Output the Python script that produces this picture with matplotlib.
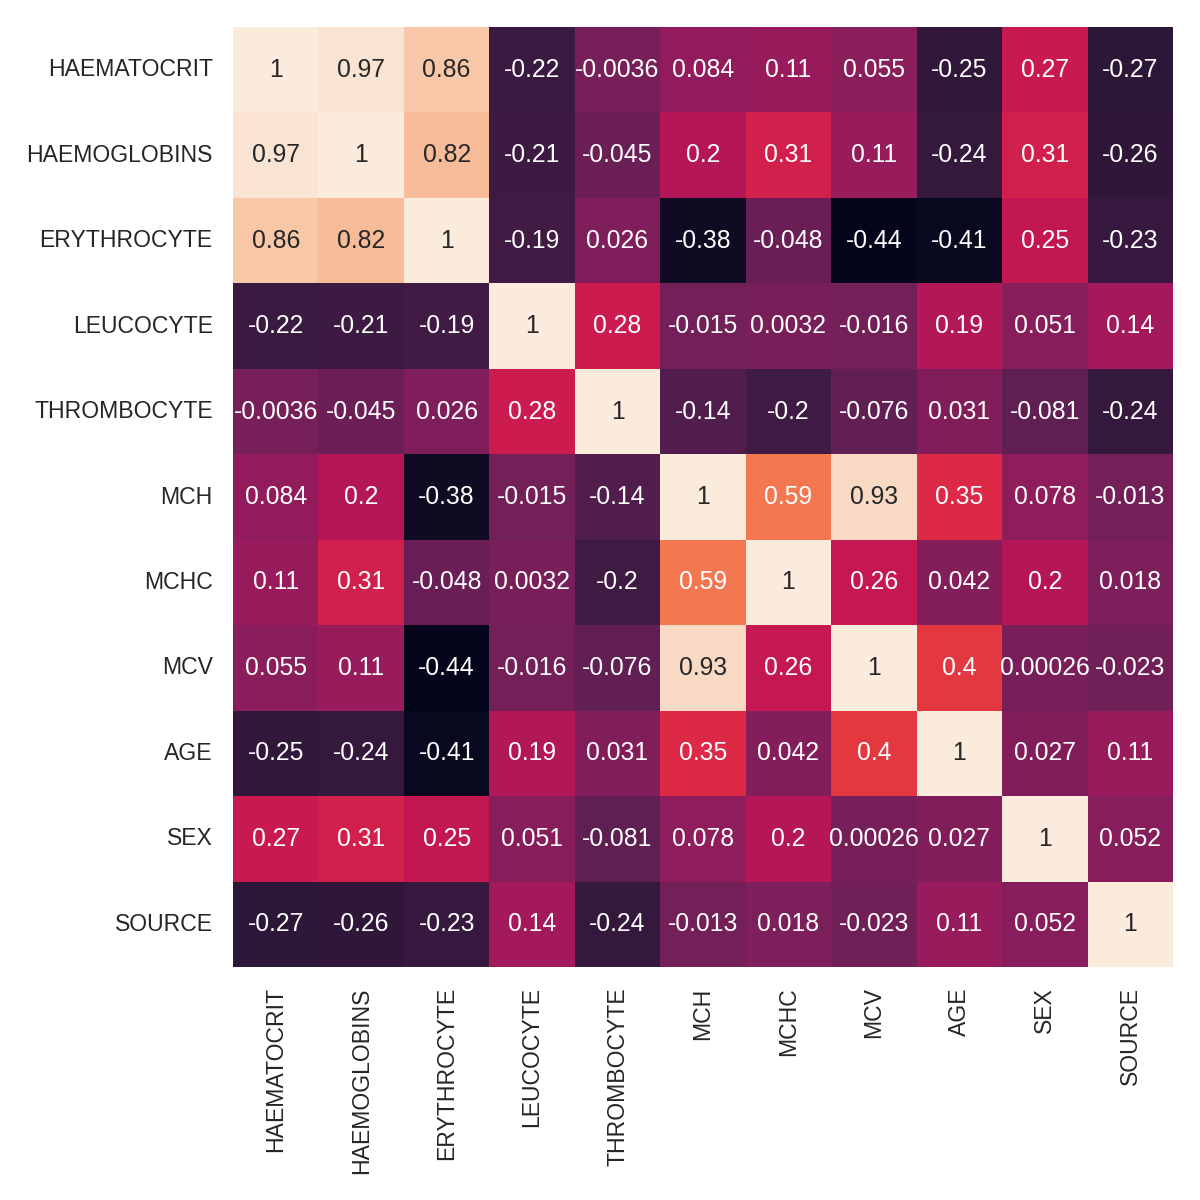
import matplotlib
matplotlib.use("Agg")
import matplotlib.pyplot as plt
import seaborn as sns
import numpy as np
import pandas as pd

labels = ["HAEMATOCRIT", "HAEMOGLOBINS", "ERYTHROCYTE", "LEUCOCYTE", "THROMBOCYTE",
          "MCH", "MCHC", "MCV", "AGE", "SEX", "SOURCE"]

haematocrit  = [1, 0.97, 0.86, -0.22, -0.0036, 0.084, 0.11, 0.055, -0.25, 0.27, -0.27]
haemoglobins = [0.97, 1, 0.82, -0.21, -0.045, 0.2, 0.31, 0.11, -0.24, 0.31, -0.26]
erythrocyte  = [0.86, 0.82, 1, -0.19, 0.026, -0.38, -0.048, -0.44, -0.41, 0.25, -0.23]
leucocyte    = [-0.22, -0.21, -0.19, 1, 0.28, -0.015, 0.0032, -0.016, 0.19, 0.051, 0.14]
thrombocyte  = [-0.0036, -0.045, 0.026, 0.28, 1, -0.14, -0.2, -0.076, 0.031, -0.081, -0.24]
mch          = [0.084, 0.2, -0.38, -0.015, -0.14, 1, 0.59, 0.93, 0.35, 0.078, -0.013]
mchc         = [0.11, 0.31, -0.048, 0.0032, -0.2, 0.59, 1, 0.26, 0.042, 0.2, 0.018]
mcv          = [0.055, 0.11, -0.44, -0.016, -0.076, 0.93, 0.26, 1, 0.4, 0.00026, -0.023]
age          = [-0.25, -0.24, -0.41, 0.19, 0.031, 0.35, 0.042, 0.4, 1, 0.027, 0.11]
sex          = [0.27, 0.31, 0.25, 0.051, -0.081, 0.078, 0.2, 0.00026, 0.027, 1, 0.052]
source       = [-0.27, -0.26, -0.23, 0.14, -0.24, -0.013, 0.018, -0.023, 0.11, 0.052, 1]

corr = pd.DataFrame([haematocrit, haemoglobins, erythrocyte, leucocyte, thrombocyte,
                     mch, mchc, mcv, age, sex, source], index=labels, columns=labels)

sns.set_theme(style="white")
plt.rcParams['font.family'] = ['Liberation Sans', 'DejaVu Sans']
fig = plt.figure(figsize=(6, 6), dpi=200)
ax = fig.add_axes([233/1200, 1 - 967/1200, 940/1200, 940/1200])
sns.heatmap(corr, annot=True, fmt=".2g", cmap="rocket", cbar=False, square=True, ax=ax,
            annot_kws={"fontsize": 8.9})
ax.tick_params(left=False, bottom=False, length=0, pad=7.3, labelsize=8.3)
plt.setp(ax.get_xticklabels(), rotation=90)
plt.setp(ax.get_yticklabels(), rotation=0)
fig.savefig("out.png", dpi=200)
